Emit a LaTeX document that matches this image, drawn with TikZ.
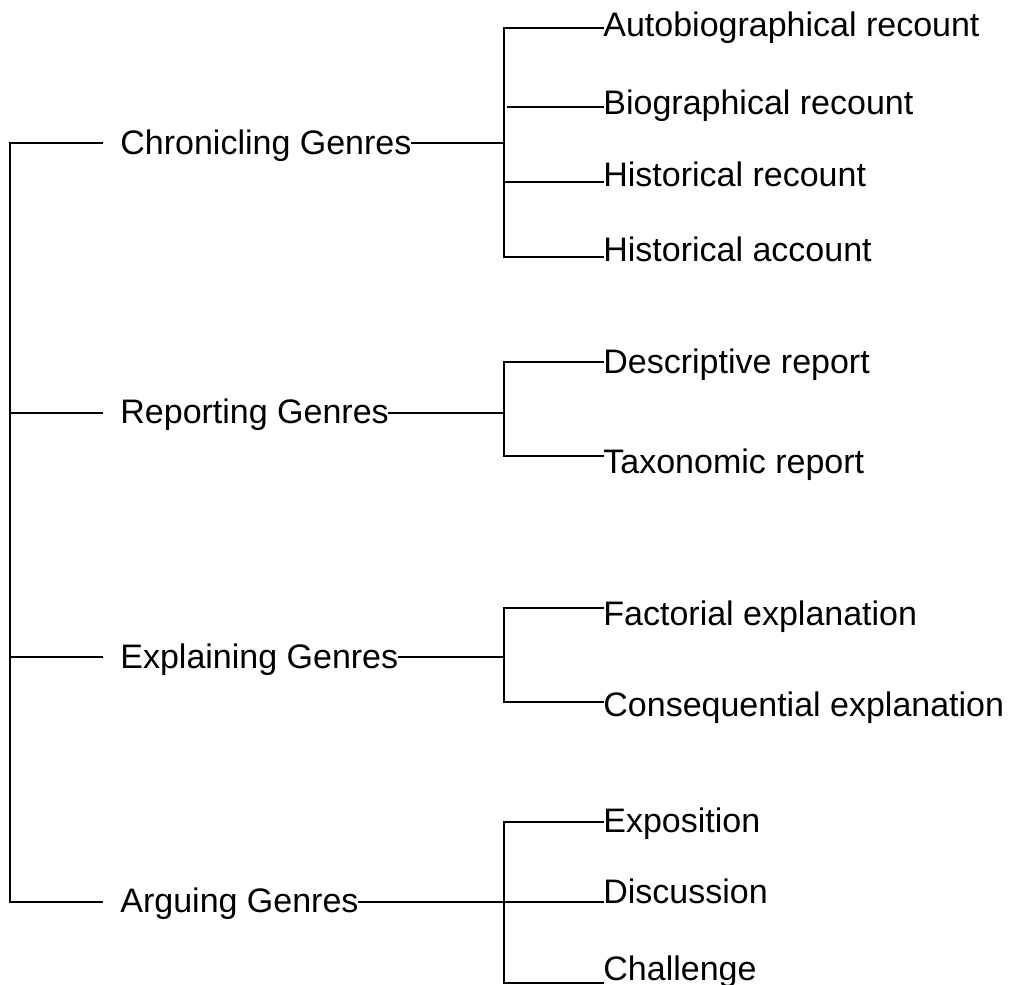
\documentclass[tikz,border=0pt]{standalone}
\usepackage{fontspec}
\setmainfont{Liberation Sans}
\usetikzlibrary{calc}

\begin{document}
\begin{tikzpicture}[x=0.5pt,y=-0.5pt,
	genre/.style={anchor=base west,inner sep=0pt,font=\fontsize{17}{20}\selectfont},
	branch/.style={line width=1pt,line cap=rect}]
			%%%%% START %%%%%
			\useasboundingbox (0,0) rectangle (1014,985);
			
			% middle level
			\node[genre] (chron) at (120,155) {Chronicling Genres};
			\node[genre] (report) at (120,423) {Reporting Genres};
			\node[genre] (explain) at (120,668) {Explaining Genres};
			\node[genre] (argue) at (120,912) {Arguing Genres};
			
			% leaves
			\node[genre] (autobio) at (603,37) {Autobiographical recount};
			\node[genre] (bio) at (603,114) {Biographical recount};
			\node[genre] (hisrec) at (603,186) {Historical recount};
			\node[genre] (hisacc) at (603,261) {Historical account};
			\node[genre] (descr) at (603,373) {Descriptive report};
			\node[genre] (taxon) at (603,473) {Taxonomic report};
			\node[genre] (factor) at (603,625) {Factorial explanation};
			\node[genre] (conseq) at (603,716) {Consequential explanation};
			\node[genre] (expos) at (603,832) {Exposition};
			\node[genre] (discus) at (603,903) {Discussion};
			\node[genre] (chall) at (603,980) {Challenge};
			
			% junctions on the spine
			\coordinate (r1) at (10,143);
			\coordinate (r2) at (10,413);
			\coordinate (r3) at (10,657);
			\coordinate (r4) at (10,902);
			
			% junctions on the branches
			\coordinate (b1) at (504,143);
			\coordinate (b2) at (504,413);
			\coordinate (b3) at (504,657);
			\coordinate (b4) at (504,902);
			
			\coordinate (k11) at (504,28);
			\coordinate (k12) at (504,107);
			\coordinate (k13) at (504,182);
			\coordinate (k14) at (504,257);
			\coordinate (k21) at (504,362);
			\coordinate (k22) at (504,456);
			\coordinate (k31) at (504,608);
			\coordinate (k32) at (504,702);
			\coordinate (k41) at (504,822);
			\coordinate (k42) at (504,902);
			\coordinate (k43) at (504,983);
			
			\draw[branch] (r1) -- (r4);
			\foreach \r/\g in {r1/chron, r2/report, r3/explain, r4/argue}
				\draw[branch, shorten >=9pt] (\r) -- (\r -| \g.west);
			
			\draw[branch] (b1 -| chron.east) -- (b1);
			\draw[branch] (b2 -| report.east) -- (b2);
			\draw[branch] (b3 -| explain.east) -- (b3);
			\draw[branch] (b4 -| argue.east) -- (b4);
			
			\draw[branch] (k11) -- (k14);
			\draw[branch] (k21) -- (k22);
			\draw[branch] (k31) -- (k32);
			\draw[branch] (k41) -- (k43);
			
			\foreach \k/\g in {k11/autobio, k13/hisrec, k14/hisacc, k21/descr, k22/taxon,
				k31/factor, k32/conseq, k41/expos, k42/discus, k43/chall}
				\draw[branch] (\k) -- (\k -| \g.west);
			\draw[branch, shorten <=2pt] (k12) -- (k12 -| bio.west);
			
			%%%%% END %%%%%
\end{tikzpicture}
\end{document}
